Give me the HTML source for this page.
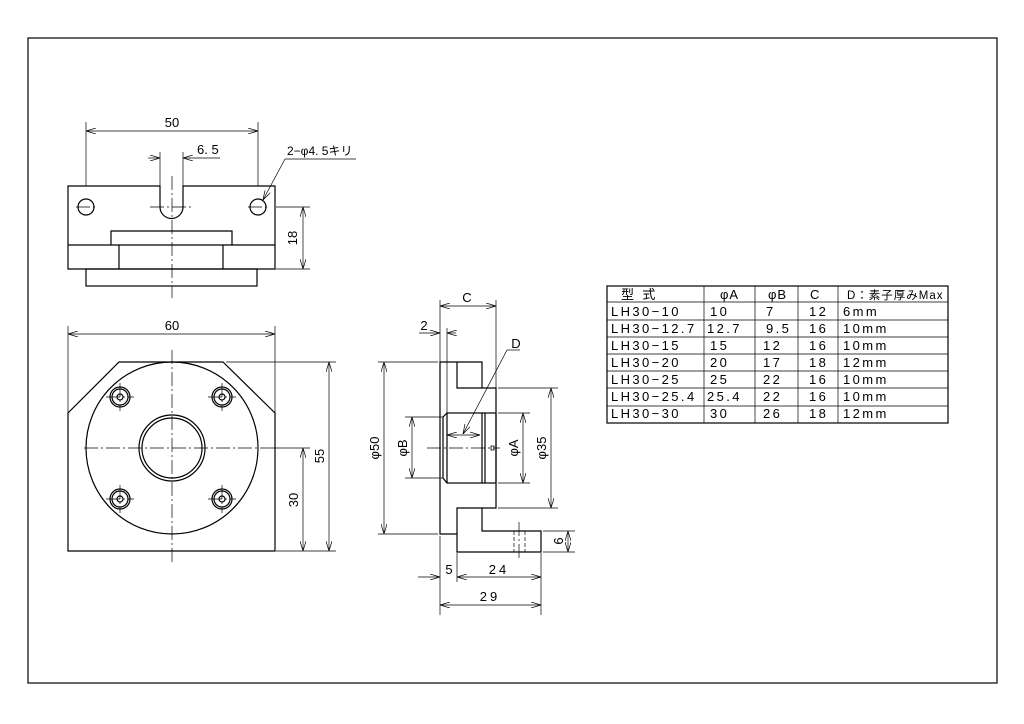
<!DOCTYPE html>
<html><head><meta charset="utf-8"><style>
html,body{margin:0;padding:0;background:#fff;}
svg{display:block;}
text{font-family:"Liberation Sans","Noto Sans CJK JP",sans-serif;fill:#000;}
</style></head><body>
<svg width="1024" height="724" viewBox="0 0 1024 724" xmlns="http://www.w3.org/2000/svg">
<defs>
<marker id="a" viewBox="0 0 10 6" refX="10" refY="3" markerWidth="10" markerHeight="6" orient="auto-start-reverse" markerUnits="userSpaceOnUse">
<path d="M0,0 L10,3 L0,6" fill="none" stroke="#000" stroke-width="0.7"/></marker>
</defs>
<rect x="28" y="38" width="969" height="645" fill="none" stroke="#000" stroke-width="1.2"/>

<g fill="none" stroke="#000" stroke-width="1.2">
<path d="M68,186 H160 V207 A11.5,11.5 0 0 0 183,207 V186 H275 V269 H68 Z"/>
<line x1="68" y1="245" x2="275" y2="245"/>
<rect x="86" y="269" width="171" height="17"/>
<path d="M111,245 V231 H232 V245"/>
<path d="M119,245 V269 M223,245 V269"/>
<circle cx="86" cy="207" r="8"/><circle cx="258" cy="207" r="8"/>
<path d="M119,362 H223 L275,413 V551 H68 V413 Z"/>
<circle cx="172" cy="448" r="86"/>
<circle cx="172" cy="448" r="33"/><circle cx="172" cy="448" r="30"/>
<g>
<circle cx="120" cy="397" r="10"/><circle cx="120" cy="397" r="8"/><circle cx="120" cy="397" r="3"/>
<circle cx="222" cy="397" r="10"/><circle cx="222" cy="397" r="8"/><circle cx="222" cy="397" r="3"/>
<circle cx="120" cy="499" r="10"/><circle cx="120" cy="499" r="8"/><circle cx="120" cy="499" r="3"/>
<circle cx="222" cy="499" r="10"/><circle cx="222" cy="499" r="8"/><circle cx="222" cy="499" r="3"/>
</g>
<path d="M440,362 H482 V388 H496 V508 H482 V531 H541 V552 H457 V534 H440 Z"/>
<path d="M457,362 V388 H482 M457,534 V508 H482"/>
<rect x="447" y="413" width="49" height="70"/>
<path d="M482,413 V483 M485,413 V483"/>
<path d="M447,413 L443,417 V478 L447,483"/>
<rect x="491" y="446" width="3" height="4" stroke-width="0.8"/>
<rect x="607" y="286" width="341" height="137"/>
</g>

<g fill="none" stroke="#000" stroke-width="0.7">
<g stroke-dasharray="14,3,2,3">
<line x1="172" y1="176" x2="172" y2="298"/>
<line x1="76" y1="207" x2="98" y2="207"/><line x1="248" y1="207" x2="270" y2="207"/><line x1="150" y1="207" x2="194" y2="207"/>
<line x1="172" y1="350" x2="172" y2="562"/>
<line x1="84" y1="448" x2="262" y2="448"/>
<line x1="106" y1="397" x2="134" y2="397"/><line x1="208" y1="397" x2="236" y2="397"/>
<line x1="106" y1="499" x2="134" y2="499"/><line x1="208" y1="499" x2="236" y2="499"/>
<line x1="120" y1="383" x2="120" y2="411"/><line x1="222" y1="383" x2="222" y2="411"/>
<line x1="120" y1="485" x2="120" y2="513"/><line x1="222" y1="485" x2="222" y2="513"/>
<line x1="427" y1="448" x2="500" y2="448"/>
<line x1="519" y1="522" x2="519" y2="558"/>
</g>
<g stroke-dasharray="4,2"><line x1="514" y1="531" x2="514" y2="552"/><line x1="525" y1="531" x2="525" y2="552"/></g>
<path d="M86,122 V186 M258,122 V186"/>
<line x1="86" y1="131" x2="258" y2="131" marker-start="url(#a)" marker-end="url(#a)"/>
<path d="M160,152 V186 M183,152 V186"/>
<line x1="148" y1="158" x2="160" y2="158" marker-end="url(#a)"/>
<line x1="220" y1="158" x2="183" y2="158" marker-end="url(#a)"/>
<line x1="356" y1="159" x2="285" y2="159"/>
<line x1="285" y1="159" x2="263" y2="200" marker-end="url(#a)"/>
<path d="M276,207 H310 M276,269 H310"/>
<line x1="303" y1="207" x2="303" y2="269" marker-start="url(#a)" marker-end="url(#a)"/>
<path d="M68,326 V413 M275,326 V413"/>
<line x1="68" y1="334" x2="275" y2="334" marker-start="url(#a)" marker-end="url(#a)"/>
<path d="M226,362 H336 M276,551 H336 M262,448 H310"/>
<line x1="329" y1="362" x2="329" y2="551" marker-start="url(#a)" marker-end="url(#a)"/>
<line x1="303" y1="448" x2="303" y2="551" marker-start="url(#a)" marker-end="url(#a)"/>
<path d="M440,300 V362 M496,300 V388 M447,328 V413"/>
<line x1="440" y1="306" x2="496" y2="306" marker-start="url(#a)" marker-end="url(#a)"/>
<line x1="419" y1="333" x2="440" y2="333" marker-end="url(#a)"/>
<line x1="456" y1="333" x2="447" y2="333" marker-end="url(#a)"/>
<path d="M378,362 H438 M378,534 H438 M405,417 H443 M405,478 H443 M498,413 H530 M498,483 H530 M498,388 H558 M498,508 H558 M543,531 H575 M543,552 H575"/>
<line x1="384" y1="362" x2="384" y2="534" marker-start="url(#a)" marker-end="url(#a)"/>
<line x1="412" y1="417" x2="412" y2="478" marker-start="url(#a)" marker-end="url(#a)"/>
<line x1="523" y1="413" x2="523" y2="483" marker-start="url(#a)" marker-end="url(#a)"/>
<line x1="551" y1="388" x2="551" y2="508" marker-start="url(#a)" marker-end="url(#a)"/>
<line x1="568" y1="531" x2="568" y2="552" marker-start="url(#a)" marker-end="url(#a)"/>
<line x1="520" y1="350" x2="507" y2="350"/>
<line x1="507" y1="350" x2="463" y2="434" marker-end="url(#a)"/>
<line x1="447" y1="435" x2="480" y2="435" marker-start="url(#a)" marker-end="url(#a)"/>
<path d="M440,536 V615 M457,553 V582 M541,553 V615"/>
<line x1="418" y1="577" x2="440" y2="577" marker-end="url(#a)"/>
<line x1="457" y1="577" x2="541" y2="577" marker-start="url(#a)" marker-end="url(#a)"/>
<line x1="440" y1="605" x2="541" y2="605" marker-start="url(#a)" marker-end="url(#a)"/>
<path d="M704,286 V423 M755,286 V423 M798,286 V423 M838,286 V423"/>
<path d="M607,302 H948 M607,320 H948 M607,337 H948 M607,354 H948 M607,371 H948 M607,388 H948 M607,406 H948"/>
</g>

<g font-size="13">
<text x="172" y="127" text-anchor="middle">50</text>
<text x="197" y="154">6. 5</text>
<text x="287" y="155" font-size="12">2−φ4. 5キリ</text>
<text transform="translate(297,238) rotate(-90)" text-anchor="middle">18</text>
<text x="172" y="330" text-anchor="middle">60</text>
<text transform="translate(324,456) rotate(-90)" text-anchor="middle">55</text>
<text transform="translate(298,500) rotate(-90)" text-anchor="middle">30</text>
<text x="467" y="302" text-anchor="middle">C</text>
<text x="424" y="330" text-anchor="middle">2</text>
<text x="516" y="348" text-anchor="middle">D</text>
<text transform="translate(379,448) rotate(-90)" text-anchor="middle">φ50</text>
<text transform="translate(407,448) rotate(-90)" text-anchor="middle">φB</text>
<text transform="translate(518,448) rotate(-90)" text-anchor="middle">φA</text>
<text transform="translate(546,448) rotate(-90)" text-anchor="middle">φ35</text>
<text transform="translate(563,541) rotate(-90)" text-anchor="middle">6</text>
<text x="449" y="574" text-anchor="middle">5</text>
<text x="499" y="574" text-anchor="middle" letter-spacing="3">24</text>
<text x="490" y="601" text-anchor="middle" letter-spacing="3">29</text>
</g>

<g font-size="13" letter-spacing="2.4">
<text x="621" y="299">型 式</text><text x="720" y="299" letter-spacing="1">φA</text><text x="768" y="299" letter-spacing="1">φB</text><text x="810" y="299">C</text><text x="847" y="299" letter-spacing="1" font-size="11.5">D：素子厚みMax</text>
<text x="611" y="316">LH30−10</text><text x="710" y="316">10</text><text x="766" y="316">7</text><text x="809" y="316">12</text><text x="843" y="316">6mm</text>
<text x="611" y="333">LH30−12.7</text><text x="707" y="333">12.7</text><text x="766" y="333">9.5</text><text x="809" y="333">16</text><text x="843" y="333">10mm</text>
<text x="611" y="350">LH30−15</text><text x="710" y="350">15</text><text x="763" y="350">12</text><text x="809" y="350">16</text><text x="843" y="350">10mm</text>
<text x="611" y="367">LH30−20</text><text x="710" y="367">20</text><text x="763" y="367">17</text><text x="809" y="367">18</text><text x="843" y="367">12mm</text>
<text x="611" y="384">LH30−25</text><text x="710" y="384">25</text><text x="763" y="384">22</text><text x="809" y="384">16</text><text x="843" y="384">10mm</text>
<text x="611" y="401">LH30−25.4</text><text x="707" y="401">25.4</text><text x="763" y="401">22</text><text x="809" y="401">16</text><text x="843" y="401">10mm</text>
<text x="611" y="418">LH30−30</text><text x="710" y="418">30</text><text x="763" y="418">26</text><text x="809" y="418">18</text><text x="843" y="418">12mm</text>
</g>
</svg>
</body></html>
